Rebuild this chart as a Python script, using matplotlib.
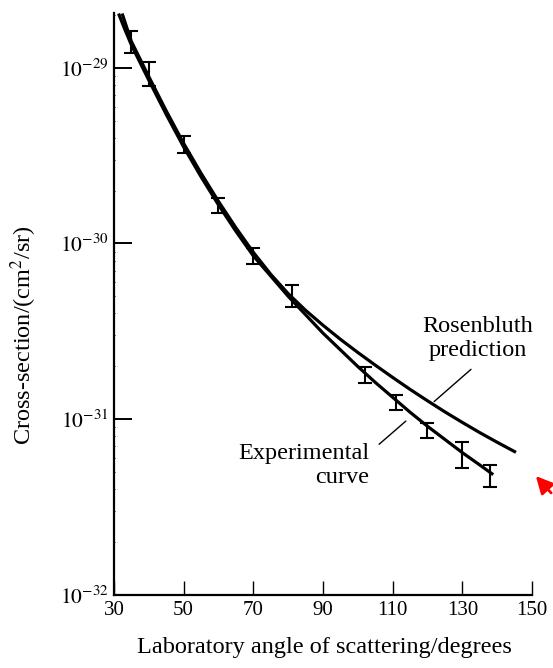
import matplotlib.pyplot as plt
import numpy as np

plt.rcParams['font.family'] = 'Liberation Serif'
plt.rcParams['mathtext.fontset'] = 'stix'

# measured points with error bars (cm^2/sr)
angle_pts = [35, 40, 50, 60, 70, 81, 102, 111, 120, 130, 138]
sigma_pts = [1.403e-29, 9.25e-30, 3.67e-30, 1.64e-30, 8.45e-31, 5.02e-31,
             1.77e-31, 1.25e-31, 8.67e-32, 6.26e-32, 4.76e-32]
sigma_lo = [1.216e-29, 7.91e-30, 3.29e-30, 1.49e-30, 7.62e-31, 4.36e-31,
            1.60e-31, 1.13e-31, 7.87e-32, 5.26e-32, 4.13e-32]
sigma_hi = [1.618e-29, 1.081e-29, 4.10e-30, 1.81e-30, 9.37e-31, 5.79e-31,
            1.97e-31, 1.37e-31, 9.55e-32, 7.46e-32, 5.50e-32]

# experimental curve, read as log10 of cross-section
exp_angle = [31.5, 33, 35, 37.5, 40, 45, 50, 55, 60, 65, 70, 75, 80, 85,
             90, 95, 100, 105, 110, 115, 120, 125, 130, 135, 138.5]
exp_log = [-28.70, -28.775, -28.87, -28.97, -29.07, -29.265, -29.45, -29.62,
           -29.78, -29.93, -30.07, -30.185, -30.30, -30.405, -30.51, -30.605,
           -30.70, -30.79, -30.875, -30.96, -31.04, -31.115, -31.19, -31.26,
           -31.31]

# Rosenbluth prediction, read as log10 of cross-section
ros_angle = [32.5, 35, 37.5, 40, 45, 50, 55, 60, 65, 70, 75, 80, 85, 90,
             95, 100, 105, 110, 115, 120, 125, 130, 135, 140, 145]
ros_log = [-28.70, -28.85, -28.95, -29.05, -29.245, -29.43, -29.60, -29.76,
           -29.91, -30.05, -30.175, -30.285, -30.38, -30.465, -30.545,
           -30.62, -30.692, -30.762, -30.83, -30.895, -30.958, -31.018,
           -31.076, -31.131, -31.184]

xticks = [30, 50, 70, 90, 110, 130, 150]
yticks = [1e-32, 1e-31, 1e-30, 1e-29]
ytick_labels = [r'$10^{-32}$', r'$10^{-31}$', r'$10^{-30}$', r'$10^{-29}$']

fig = plt.figure(figsize=(5.53, 6.68), dpi=100)
ax = fig.add_axes([0.206, 0.1093, 0.756, 0.8713])

ax.plot(exp_angle, 10.0 ** np.array(exp_log), '-', color='black', lw=2.3)
ax.plot(ros_angle, 10.0 ** np.array(ros_log), '-', color='black', lw=2.3)

sp = np.array(sigma_pts)
yerr = [sp - np.array(sigma_lo), np.array(sigma_hi) - sp]
ax.errorbar(angle_pts, sigma_pts, yerr=yerr, fmt='none', ecolor='black',
            elinewidth=1.5, capsize=5, capthick=1.5)

ax.set_yscale('log')
ax.set_xlim(30, 150)
ax.set_ylim(1e-32, 2.05e-29)

for s in ['top', 'right']:
    ax.spines[s].set_visible(False)
for s in ['left', 'bottom']:
    ax.spines[s].set_linewidth(1.6)

ax.set_xticks(xticks)
ax.set_xticklabels([str(t) for t in xticks])
ax.set_yticks(yticks)
ax.set_yticklabels(ytick_labels)
ax.tick_params(axis='x', direction='in', length=10, width=1.0,
               labelsize=15, pad=4)
ax.tick_params(axis='y', which='major', direction='in', length=13,
               width=1.4, labelsize=15.5, pad=4)
ax.tick_params(axis='y', which='minor', direction='inout', length=2.0,
               width=0.7, labelleft=False)

fig.text(324 / 553, 1 - 647 / 668, 'Laboratory angle of scattering/degrees',
         fontsize=17.5, ha='center', va='center')
fig.text(24 / 553, 1 - 335 / 668, 'Cross-section/(cm$^2$/sr)', fontsize=17.5,
         ha='center', va='center', rotation=90)

ax.text(134.5, 2.88e-31, 'Rosenbluth\nprediction', fontsize=17.5,
        ha='center', va='center', linespacing=1.2)
ax.annotate('', xy=(121.3, 1.23e-31), xytext=(133.1, 1.97e-31),
            arrowprops=dict(arrowstyle='-', color='black', lw=1.0))

ax.text(103.2, 5.44e-32, 'Experimental\ncurve', fontsize=17.5,
        ha='right', va='center', multialignment='right', linespacing=1.2)
ax.annotate('', xy=(114.4, 1.0e-31), xytext=(105.5, 7.03e-32),
            arrowprops=dict(arrowstyle='-', color='black', lw=1.0))

# red pointer at the right edge
ax.annotate('', xy=(534 / 553, 1 - 474 / 668), xycoords='figure fraction',
            xytext=(1.0, 1 - 495 / 668), textcoords='figure fraction',
            arrowprops=dict(arrowstyle='-|>', color='red', lw=2.0,
                            mutation_scale=26))

fig.savefig('out.png', dpi=100)
